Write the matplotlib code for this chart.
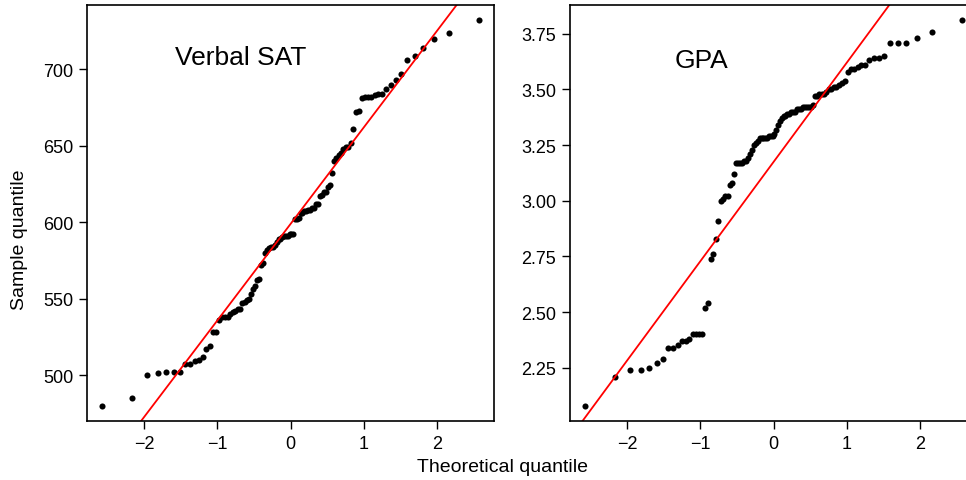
import numpy as np
import matplotlib
matplotlib.use("Agg")
import matplotlib.pyplot as plt
from statistics import NormalDist

# ---------------- data (sorted sample values, n = 100 each) ----------------
sat_values = [
    480, 485, 500, 501, 502, 502, 502, 507, 507, 509,
    510, 512, 517, 519, 528, 528, 536, 538, 538, 538,
    540, 541, 542, 543, 543, 547, 548, 549, 550, 553,
    556, 558, 562, 563, 572, 573, 580, 582, 583, 584,
    584, 585, 587, 589, 589, 590, 591, 591, 591, 592,
    592, 592, 602, 602, 603, 606, 606, 607, 607, 608,
    608, 609, 609, 612, 612, 617, 618, 620, 620, 623,
    624, 632, 640, 642, 644, 645, 648, 649, 649, 652,
    661, 672, 673, 681, 682, 682, 682, 683, 684, 684,
    687, 690, 693, 697, 706, 709, 714, 720, 724, 732,
]

gpa_values = [
    2.08, 2.21, 2.24, 2.24, 2.25, 2.27, 2.29, 2.34, 2.34, 2.35,
    2.37, 2.37, 2.38, 2.40, 2.40, 2.40, 2.40, 2.52, 2.54, 2.74,
    2.76, 2.83, 2.91, 3.00, 3.01, 3.02, 3.02, 3.07, 3.08, 3.12,
    3.17, 3.17, 3.17, 3.17, 3.18, 3.18, 3.19, 3.21, 3.23, 3.25,
    3.26, 3.27, 3.28, 3.28, 3.28, 3.28, 3.28, 3.29, 3.29, 3.29,
    3.30, 3.32, 3.34, 3.36, 3.37, 3.38, 3.38, 3.39, 3.39, 3.40,
    3.40, 3.40, 3.41, 3.41, 3.41, 3.42, 3.42, 3.42, 3.42, 3.42,
    3.43, 3.47, 3.47, 3.48, 3.48, 3.48, 3.49, 3.50, 3.50, 3.51,
    3.51, 3.52, 3.53, 3.54, 3.58, 3.59, 3.59, 3.60, 3.61, 3.61,
    3.63, 3.64, 3.64, 3.65, 3.71, 3.71, 3.71, 3.73, 3.76, 3.81,
]

# reference lines (intercept, slope)
sat_line = (598.8, 63.1)
gpa_line = (3.174, 0.4455)

panel_titles = ["Verbal SAT", "GPA"]
sat_yticks = [500, 550, 600, 650, 700]
gpa_yticks = [2.25, 2.50, 2.75, 3.00, 3.25, 3.50, 3.75]
xticks = [-2, -1, 0, 1, 2]

# ---------------- figure ----------------
plt.rcParams['font.family'] = ['Liberation Sans', 'DejaVu Sans']
W, H = 966, 481
fig = plt.figure(figsize=(W / 100, H / 100), dpi=100)


def theo_quantiles(n):
    nd = NormalDist()
    return np.array([nd.inv_cdf((i - 0.5) / n) for i in range(1, n + 1)])


def panel(rect, values, line, yticks, yfmt, title, title_pos):
    ax = fig.add_axes(rect)
    vals = np.array(values, dtype=float)
    tq = theo_quantiles(len(vals))
    ax.plot(tq, vals, 'o', color='black', ms=4.4, mew=0)
    ax.axline((0, line[0]), slope=line[1], color='#ff0000', lw=1.3)
    xr = tq.max() - tq.min()
    ax.set_xlim(tq.min() - 0.04 * xr, tq.max() + 0.04 * xr)
    yr = vals.max() - vals.min()
    ax.set_ylim(vals.min() - 0.04 * yr, vals.max() + 0.04 * yr)
    ax.set_xticks(xticks)
    ax.set_yticks(yticks)
    ax.set_yticklabels([yfmt.format(v) for v in yticks])
    ax.tick_params(direction='out', length=6, width=1.0, labelsize=13,
                   pad=4, colors='black')
    for sp in ax.spines.values():
        sp.set_linewidth(1.2)
        sp.set_color('black')
    ax.text(title_pos[0], title_pos[1], title, transform=ax.transAxes,
            fontsize=19, ha='left', va='baseline')
    return ax


panel([87 / W, 1 - 422 / H, 407 / W, 416 / H], sat_values, sat_line,
      sat_yticks, "{:d}", panel_titles[0], (0.216, 0.858))
panel([570 / W, 1 - 422 / H, 407 / W, 416 / H], gpa_values, gpa_line,
      gpa_yticks, "{:.2f}", panel_titles[1], (0.256, 0.851))

fig.text(503 / W, 1 - 468 / H, "Theoretical quantile", ha='center',
         va='center', fontsize=14)
fig.text(20 / W, 1 - 240 / H, "Sample quantile", ha='center',
         va='center', rotation=90, fontsize=14)

fig.savefig("out.png", dpi=100)
